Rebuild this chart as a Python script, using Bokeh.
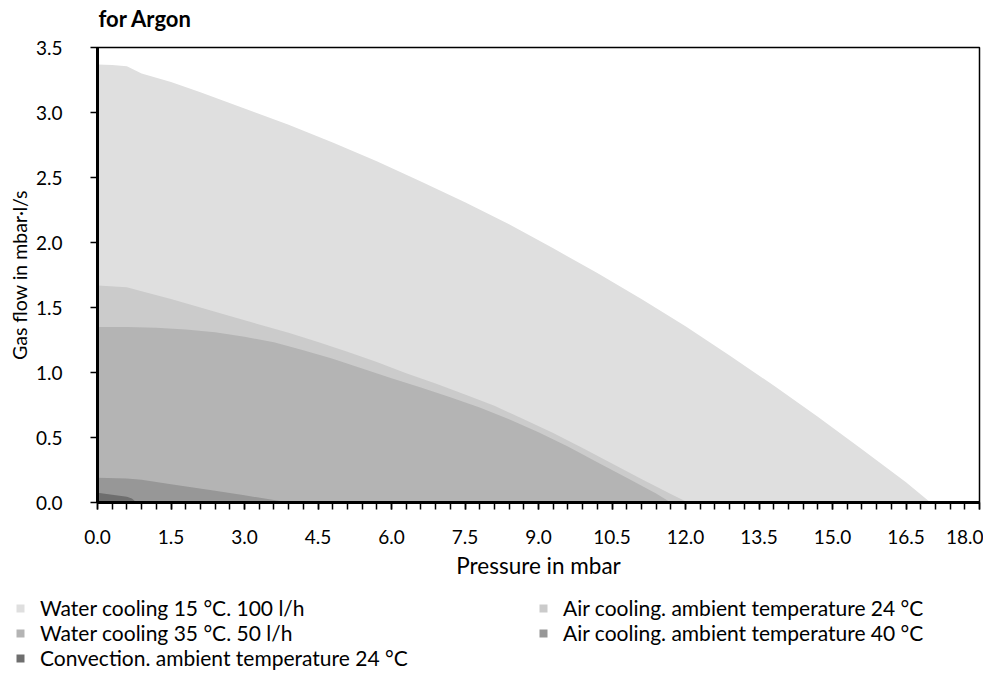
from bokeh.plotting import figure
from bokeh.layouts import column
from bokeh.models import FixedTicker, PrintfTickFormatter, Legend, LegendItem
from bokeh.embed import file_html
from bokeh.resources import INLINE

# ---- data ----
title_text = "for Argon"
x_label = "Pressure in mbar"
y_label = "Gas flow in mbar·l/s"

x_ticks = [0.0, 1.5, 3.0, 4.5, 6.0, 7.5, 9.0, 10.5, 12.0, 13.5, 15.0, 16.5, 18.0]
y_ticks = [0.0, 0.5, 1.0, 1.5, 2.0, 2.5, 3.0, 3.5]

names = [
    "Water cooling 15 °C. 100 l/h",
    "Air cooling. ambient temperature 24 °C",
    "Water cooling 35 °C. 50 l/h",
    "Air cooling. ambient temperature 40 °C",
    "Convection. ambient temperature 24 °C",
]
colors = ["#dfdfdf", "#cbcbcb", "#b4b4b4", "#979797", "#6e6e6e"]

water15_x = [0.0, 0.3, 0.6, 0.9, 1.5, 2.1, 3.0, 3.9, 4.8, 5.7, 6.6, 7.5, 8.4, 9.3,
             10.2, 11.1, 12.0, 12.9, 13.8, 14.7, 15.6, 16.5, 17.0]
water15_y = [3.37, 3.365, 3.355, 3.30, 3.235, 3.155, 3.03, 2.905, 2.77, 2.625, 2.47, 2.31,
             2.14, 1.955, 1.765, 1.565, 1.355, 1.13, 0.90, 0.66, 0.41, 0.155, 0.0]

air24_x = [0.0, 0.6, 0.9, 1.5, 2.1, 2.7, 3.3, 3.9, 4.5, 5.1, 5.7, 6.3, 6.9, 7.5, 8.1,
           8.7, 9.3, 9.9, 10.5, 11.1, 11.7, 12.05]
air24_y = [1.67, 1.656, 1.625, 1.565, 1.50, 1.435, 1.37, 1.305, 1.235, 1.16, 1.08, 0.995,
           0.915, 0.83, 0.745, 0.64, 0.535, 0.42, 0.30, 0.18, 0.065, 0.0]

water35_x = [0.0, 0.6, 1.2, 1.8, 2.4, 3.0, 3.6, 4.2, 4.8, 5.4, 6.0, 6.6, 7.2, 7.8, 8.4,
             9.0, 9.6, 10.2, 10.8, 11.4, 11.7]
water35_y = [1.35, 1.35, 1.345, 1.33, 1.31, 1.275, 1.232, 1.172, 1.105, 1.03, 0.955, 0.885,
             0.81, 0.73, 0.64, 0.54, 0.43, 0.31, 0.19, 0.07, 0.0]

air40_x = [0.0, 0.6, 0.9, 1.5, 2.4, 3.0, 3.6, 3.9]
air40_y = [0.19, 0.185, 0.175, 0.14, 0.09, 0.055, 0.02, 0.0]

conv_x = [0.0, 0.3, 0.6, 0.7, 0.8]
conv_y = [0.075, 0.06, 0.045, 0.03, 0.0]

series_x = [water15_x, air24_x, water35_x, air40_x, conv_x]
series_y = [water15_y, air24_y, water35_y, air40_y, conv_y]

FONT = "Lato"
W = 983


def no_align(fig):
    try:
        fig.frame_align = False
    except Exception:
        pass


# ---- title strip ----
tp = figure(width=W, height=35, min_border=0, min_border_left=97, min_border_right=4,
            title=title_text, x_range=(0, 1), y_range=(0, 1),
            x_axis_type=None, y_axis_type=None,
            output_backend="svg", toolbar_location=None,
            background_fill_color="white", border_fill_color="white")
tp.outline_line_color = None
tp.title.text_font = FONT
tp.title.text_font_size = "22px"
tp.title.text_font_style = "bold"
tp.title.text_color = "black"
tp.title.align = "left"
tp.title.offset = 1
tp.title.standoff = 4

# ---- main chart ----
p = figure(frame_width=882, frame_height=455, title=None,
           min_border_left=97, min_border_right=4, min_border_top=12, min_border_bottom=88,
           x_range=(0, 18), y_range=(0, 3.5),
           output_backend="svg", toolbar_location=None,
           background_fill_color="white", border_fill_color="white")

for xs, ys, c in zip(series_x, series_y, colors):
    p.varea(x=xs, y1=[0.0] * len(xs), y2=ys, fill_color=c)

p.xgrid.visible = False
p.ygrid.visible = False
p.outline_line_color = "black"
p.outline_line_width = 1.5
p.outline_line_alpha = 1.0

minor = [round(i * 0.3, 1) for i in range(61)]
p.xaxis.ticker = FixedTicker(ticks=x_ticks, minor_ticks=minor)
p.xaxis.formatter = PrintfTickFormatter(format="%.1f")
p.yaxis.ticker = FixedTicker(ticks=y_ticks)
p.yaxis.formatter = PrintfTickFormatter(format="%.1f")

for ax in (p.xaxis, p.yaxis):
    ax.axis_line_width = 3
    ax.axis_line_color = "black"
    ax.major_tick_line_color = "black"
    ax.major_tick_line_width = 1.5
    ax.major_tick_out = 7
    ax.major_tick_in = 0
    ax.minor_tick_line_color = "black"
    ax.minor_tick_line_width = 1.5
    ax.minor_tick_out = 7
    ax.minor_tick_in = 0
    ax.major_label_text_font = FONT
    ax.major_label_text_font_size = "19px"
    ax.major_label_text_color = "black"
    ax.axis_label_text_font = FONT
    ax.axis_label_text_font_style = "normal"
    ax.axis_label_text_color = "black"

p.yaxis.minor_tick_line_color = None
p.xaxis.axis_label = x_label
p.yaxis.axis_label = y_label
p.xaxis.axis_label_text_font_size = "22.5px"
p.yaxis.axis_label_text_font_size = "19.5px"
p.xaxis.major_label_standoff = 20
p.xaxis.axis_label_standoff = 5
p.yaxis.major_label_standoff = 28
p.yaxis.axis_label_standoff = 2

# ---- legend strip (swatch renderers carry the same series, kept out of view) ----
lp = figure(width=W, height=80, min_border=0, title=None,
            x_range=(50, 51), y_range=(0, 1), x_axis_type=None, y_axis_type=None,
            output_backend="svg", toolbar_location=None,
            background_fill_color="white", border_fill_color="white")
lp.outline_line_color = None
proxies = [lp.varea(x=xs, y1=[0.0] * len(xs), y2=ys, fill_color=c)
           for xs, ys, c in zip(series_x, series_y, colors)]
items = [LegendItem(label=n, renderers=[r]) for n, r in zip(names, proxies)]
lg = Legend(items=items, orientation="horizontal", ncols=2, location=(15, 0))
lg.border_line_color = None
lg.background_fill_alpha = 0
lg.padding = 0
lg.margin = 0
lg.spacing = -2
lg.glyph_width = 10
lg.glyph_height = 10
lg.label_standoff = 15
lg.label_width = 498
lg.label_text_font = FONT
lg.label_text_font_size = "21px"
lg.label_text_color = "black"
lp.add_layout(lg, "center")

for f in (tp, p, lp):
    no_align(f)

page = column(tp, p, lp, spacing=0)
open("out.html", "w").write(file_html(page, INLINE))
